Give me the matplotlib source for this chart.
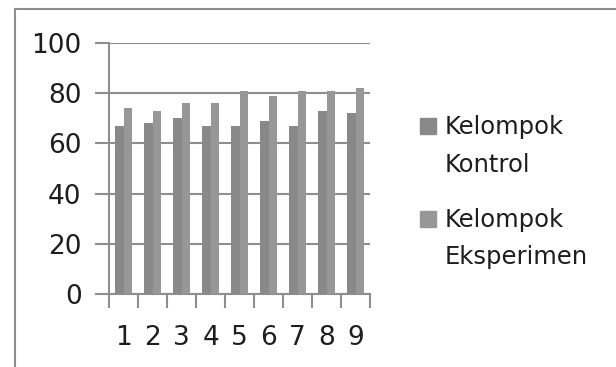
import matplotlib
matplotlib.use("Agg")
import matplotlib.pyplot as plt
from matplotlib.patches import Rectangle
from matplotlib.lines import Line2D
import numpy as np

plt.rcParams['font.family'] = ['DejaVu Sans']

# Scores per meeting for both groups
meetings = ['1', '2', '3', '4', '5', '6', '7', '8', '9']
kontrol = [67, 68, 70, 67, 67, 69, 67, 73, 72]
eksperimen = [74, 73, 76, 76, 81, 79, 81, 81, 82]
series_labels = [['Kelompok', 'Kontrol'], ['Kelompok', 'Eksperimen']]
yticks = [0, 20, 40, 60, 80, 100]

c_kontrol = '#898989'
c_eksperimen = '#979797'
line_c = '#8e8e8e'
text_c = '#1e1e1e'

fig = plt.figure(figsize=(6.16, 3.67), dpi=100)
W, H = 616, 367
ax = fig.add_axes([109.3 / W, 1 - 294.3 / H, 260.7 / W, 251.6 / H])

x = np.arange(len(meetings))
bw = 0.286
ax.bar(x - bw / 2, kontrol, bw, color=c_kontrol, zorder=3)
ax.bar(x + bw / 2, eksperimen, bw, color=c_eksperimen, zorder=3)

ax.set_xlim(-0.5, len(meetings) - 0.5)
ax.set_ylim(0, 100)
ax.set_yticks(yticks)
ax.yaxis.grid(True, color=line_c, linewidth=1.5, zorder=1)
ax.set_axisbelow(True)

# tick marks between categories, labels at the centres
ax.set_xticks(np.arange(-0.5, len(meetings)), labels=[])
ax.set_xticks(x, labels=meetings, minor=True)
ax.tick_params(axis='x', which='major', length=10, width=1.5, color=line_c, direction='out')
ax.tick_params(axis='x', which='minor', length=0, pad=22, labelsize=19, labelcolor=text_c)
ax.tick_params(axis='y', length=10, width=1.5, color=line_c, pad=10, labelsize=19, labelcolor=text_c)

for s in ['top', 'right']:
    ax.spines[s].set_visible(False)
for s in ['left', 'bottom']:
    ax.spines[s].set_color(line_c)
    ax.spines[s].set_linewidth(1.5)

# outer chart frame (only top and left edges fall inside the image)
fig.add_artist(Line2D([14.7 / W, 14.7 / W], [0, 1 - 9 / H], color=line_c, lw=1.5))
fig.add_artist(Line2D([14.7 / W, 1], [1 - 9 / H, 1 - 9 / H], color=line_c, lw=1.5))

# legend
for i, (lines, col) in enumerate(zip(series_labels, [c_kontrol, c_eksperimen])):
    base = 134.3 + i * 92.4
    fig.add_artist(Rectangle((420 / W, 1 - base / H), 16 / W, 16 / H,
                             color=col, transform=fig.transFigure))
    for j, txt in enumerate(lines):
        fig.text(445 / W, 1 - (base + j * 37.2) / H, txt, fontsize=17.5,
                 color=text_c, va='baseline', ha='left')

fig.savefig('out.png', dpi=100)
